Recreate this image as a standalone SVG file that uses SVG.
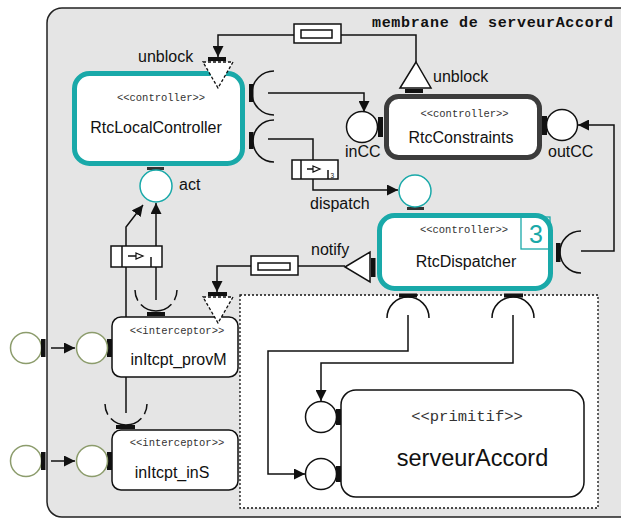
<svg xmlns="http://www.w3.org/2000/svg" width="621" height="519" viewBox="0 0 621 519">
<defs>
<style>
.ln{fill:none;stroke:#111;stroke-width:1.5}
.bar{fill:#111}
.lbl{font-family:"Liberation Sans",Arial,sans-serif;font-size:16px;fill:#111}
.st{font-family:"Liberation Mono","Courier New",monospace;font-size:10.5px;fill:#333;text-anchor:middle}
.nm{font-family:"Liberation Sans",Arial,sans-serif;font-size:16px;fill:#111;text-anchor:middle}
.port{fill:#fff;stroke:#111;stroke-width:1.5}
.tport{fill:#fff;stroke:#19a9a9;stroke-width:1.5}
.gport{fill:#fff;stroke:#8c9c6c;stroke-width:1.5}
.tri{fill:#fff;stroke:#111;stroke-width:1.5}
.dtri{fill:#fff;stroke:#111;stroke-width:1.3;stroke-dasharray:3 2}
.bind{fill:#fff;stroke:#111;stroke-width:1.5}
.darc{fill:none;stroke:#111;stroke-width:1.5;stroke-dasharray:11 5 34 5 11}
</style>
<marker id="ah" viewBox="0 0 10 10" refX="10" refY="5" markerWidth="11" markerHeight="11" markerUnits="userSpaceOnUse" orient="auto">
<path d="M0,0 L10,5 L0,10 z" fill="#111"/>
</marker>
</defs>

<g id="membrane">
<rect x="47" y="8" width="600" height="509" rx="15" fill="#e5e5e5" stroke="#222" stroke-width="1.5"/>
<text x="372" y="27" font-family="Liberation Mono,'Courier New',monospace" font-weight="bold" font-size="15" textLength="241" lengthAdjust="spacing" fill="#111">membrane de serveurAccord</text>
</g>

<g id="content-area">
<rect x="240" y="295" width="358" height="213" fill="#fff" stroke="#111" stroke-width="1.3" stroke-dasharray="2 2"/>
</g>

<g id="connectors">
<polyline class="ln" points="294,35 218,35 218,57" marker-end="url(#ah)"/>
<polyline class="ln" points="341,35 416,35 416,62"/>
<polyline class="ln" points="268,93 364,93 364,112" marker-end="url(#ah)"/>
<polyline class="ln" points="268,139 313,139 313,190 398,190" marker-end="url(#ah)"/>
<polyline class="ln" points="581,251 614,251 614,125 578,125" marker-end="url(#ah)"/>
<polyline class="ln" points="345,266 298,266"/>
<polyline class="ln" points="251,266 217,266 217,292" marker-end="url(#ah)"/>
<polyline class="ln" points="126,317 126,227 143,205" marker-end="url(#ah)"/>
<polyline class="ln" points="156,300 156,203" marker-end="url(#ah)"/>
<line class="ln" x1="126" y1="377" x2="126" y2="413"/>
<polyline class="ln" points="408,315 408,351 268,351 268,474 305,474" marker-end="url(#ah)"/>
<polyline class="ln" points="513,315 513,363 321,363 321,401" marker-end="url(#ah)"/>
<line class="ln" x1="51" y1="348" x2="75" y2="348" marker-end="url(#ah)"/>
<line class="ln" x1="51" y1="461" x2="75" y2="461" marker-end="url(#ah)"/>
</g>

<g id="binding-unblock">
<rect class="bind" x="294" y="24" width="47" height="19"/>
<rect class="bind" x="301" y="30" width="31" height="8" stroke-width="1.3"/>
</g>

<g id="binding-dispatch">
<rect class="bind" x="292" y="160" width="46" height="19"/>
<line class="ln" x1="301" y1="160" x2="301" y2="179"/>
<line class="ln" x1="307" y1="169" x2="313" y2="169" stroke-width="1.2"/>
<polygon points="313,166 320,169 313,172" fill="#fff" stroke="#111" stroke-width="1.2"/>
<line class="ln" x1="328" y1="170" x2="328" y2="179" stroke-width="1.2"/>
<text x="330.5" y="177.5" font-family="Liberation Sans,Arial,sans-serif" font-size="6.5" fill="#111">3</text>
</g>

<g id="binding-notify">
<rect class="bind" x="251" y="256" width="47" height="19"/>
<rect class="bind" x="258" y="263" width="32" height="7" stroke-width="1.3"/>
</g>

<g id="binding-act">
<rect class="bind" x="111" y="246" width="51" height="21"/>
<line class="ln" x1="122" y1="246" x2="122" y2="267"/>
<line class="ln" x1="128" y1="256" x2="136" y2="256" stroke-width="1.2"/>
<polygon points="136,253 143,256 136,259" fill="#fff" stroke="#111" stroke-width="1.2"/>
<line class="ln" x1="151" y1="257" x2="151" y2="267" stroke-width="1.2"/>
</g>

<g id="RtcLocalController">
<rect x="74.5" y="73.5" width="168" height="90" rx="15" fill="#fff" stroke="#19a9a9" stroke-width="5"/>
<text class="st" x="161" y="101">&lt;&lt;controller&gt;&gt;</text>
<text class="nm" x="156" y="133">RtcLocalController</text>
<rect class="bar" x="249" y="84" width="4.5" height="18"/>
<path class="ln" d="M274,71 A22,22 0 0 0 274,115"/>
<rect class="bar" x="249" y="132" width="4.5" height="17"/>
<path class="ln" d="M274,120 A21,21 0 0 0 274,162"/>
<rect class="bar" x="208" y="57" width="18" height="4"/>
<polygon class="dtri" points="203,62 233,62 218,88"/>
<text class="lbl" x="138" y="62">unblock</text>
<rect x="147" y="167" width="17" height="3" fill="#333"/>
<circle class="tport" cx="156" cy="186" r="16"/>
<text class="lbl" x="179" y="190">act</text>
</g>

<g id="RtcConstraints">
<rect x="386.5" y="96.5" width="153" height="61" rx="12" fill="#fff" stroke="#3c3c3c" stroke-width="5"/>
<text class="st" x="464.5" y="117">&lt;&lt;controller&gt;&gt;</text>
<text class="nm" x="461" y="143">RtcConstraints</text>
<rect class="bar" x="405" y="89" width="18" height="4"/>
<polygon class="tri" points="416,62 431,88 400,88"/>
<text class="lbl" x="433" y="82">unblock</text>
<rect class="bar" x="378" y="117" width="5" height="20"/>
<circle class="port" cx="362" cy="127" r="15.5"/>
<text class="lbl" x="345" y="157">inCC</text>
<rect class="bar" x="542" y="116" width="5" height="19"/>
<circle class="port" cx="562" cy="125" r="15.5"/>
<text class="lbl" x="548" y="157">outCC</text>
</g>

<g id="RtcDispatcher">
<rect x="379.5" y="215.5" width="171" height="73" rx="15" fill="#fff" stroke="#19a9a9" stroke-width="5"/>
<rect x="521" y="217" width="29" height="32" fill="none" stroke="#19a9a9" stroke-width="1.3"/>
<text x="536" y="243" font-family="Liberation Sans,Arial,sans-serif" font-size="25" fill="#19a9a9" text-anchor="middle">3</text>
<text class="st" x="464" y="233">&lt;&lt;controller&gt;&gt;</text>
<text class="nm" x="466" y="267">RtcDispatcher</text>
<rect x="407" y="207" width="17" height="3" fill="#333"/>
<circle class="tport" cx="415" cy="191" r="16"/>
<text class="lbl" x="310" y="209">dispatch</text>
<rect class="bar" x="371" y="258" width="4.5" height="19"/>
<polygon class="tri" points="345,267 370,252 370,282"/>
<text class="lbl" x="311" y="255">notify</text>
<rect class="bar" x="556" y="243" width="4.5" height="19"/>
<path class="ln" d="M581,231 A21,21 0 0 0 581,273"/>
<rect class="bar" x="399" y="293.5" width="18" height="4"/>
<path class="ln" d="M387,318 A21,21 0 0 1 429,318"/>
<rect class="bar" x="504" y="293.5" width="19" height="4"/>
<path class="ln" d="M492,318 A21,21 0 0 1 534,318"/>
</g>

<g id="serveurAccord">
<rect x="341" y="390" width="243" height="107" rx="15" fill="#fff" stroke="#111" stroke-width="1.5"/>
<text x="467" y="421" font-family="Liberation Mono,'Courier New',monospace" font-size="15.5" fill="#333" text-anchor="middle">&lt;&lt;primitif&gt;&gt;</text>
<text x="472.5" y="466" font-family="Liberation Sans,Arial,sans-serif" font-size="23.5" fill="#111" text-anchor="middle">serveurAccord</text>
<rect class="bar" x="336" y="409" width="5" height="16"/>
<circle class="port" cx="321" cy="417" r="15.5"/>
<rect class="bar" x="336" y="466" width="5" height="16"/>
<circle class="port" cx="321" cy="474" r="15.5"/>
</g>

<g id="inItcpt_provM">
<rect x="112" y="317" width="126" height="60" rx="9" fill="#fff" stroke="#111" stroke-width="1.5"/>
<text class="st" x="177" y="334">&lt;&lt;interceptor&gt;&gt;</text>
<text class="nm" x="178.5" y="365">inItcpt_provM</text>
<path class="darc" d="M135,290 A21,21 0 0 0 177,290"/>
<rect class="bar" x="147" y="312" width="18" height="4"/>
<rect class="bar" x="208" y="292" width="19" height="4"/>
<polygon class="dtri" points="203,297 233,297 218,323"/>
<rect class="bar" x="107" y="339" width="5" height="18"/>
<circle class="gport" cx="92" cy="348" r="15.5"/>
</g>

<g id="inItcpt_inS">
<rect x="112" y="430" width="126" height="60" rx="9" fill="#fff" stroke="#111" stroke-width="1.5"/>
<text class="st" x="177" y="446">&lt;&lt;interceptor&gt;&gt;</text>
<text class="nm" x="172" y="478">inItcpt_inS</text>
<path class="darc" d="M105,404 A21,21 0 0 0 147,404"/>
<rect class="bar" x="116" y="425" width="19" height="4"/>
<rect class="bar" x="107" y="452" width="5" height="18"/>
<circle class="gport" cx="92" cy="461" r="15.5"/>
</g>

<g id="external-ports">
<circle class="gport" cx="26" cy="348" r="15.5"/>
<rect class="bar" x="41" y="339" width="4.5" height="18"/>
<circle class="gport" cx="26" cy="461" r="15.5"/>
<rect class="bar" x="41" y="452" width="4.5" height="18"/>
</g>
</svg>
